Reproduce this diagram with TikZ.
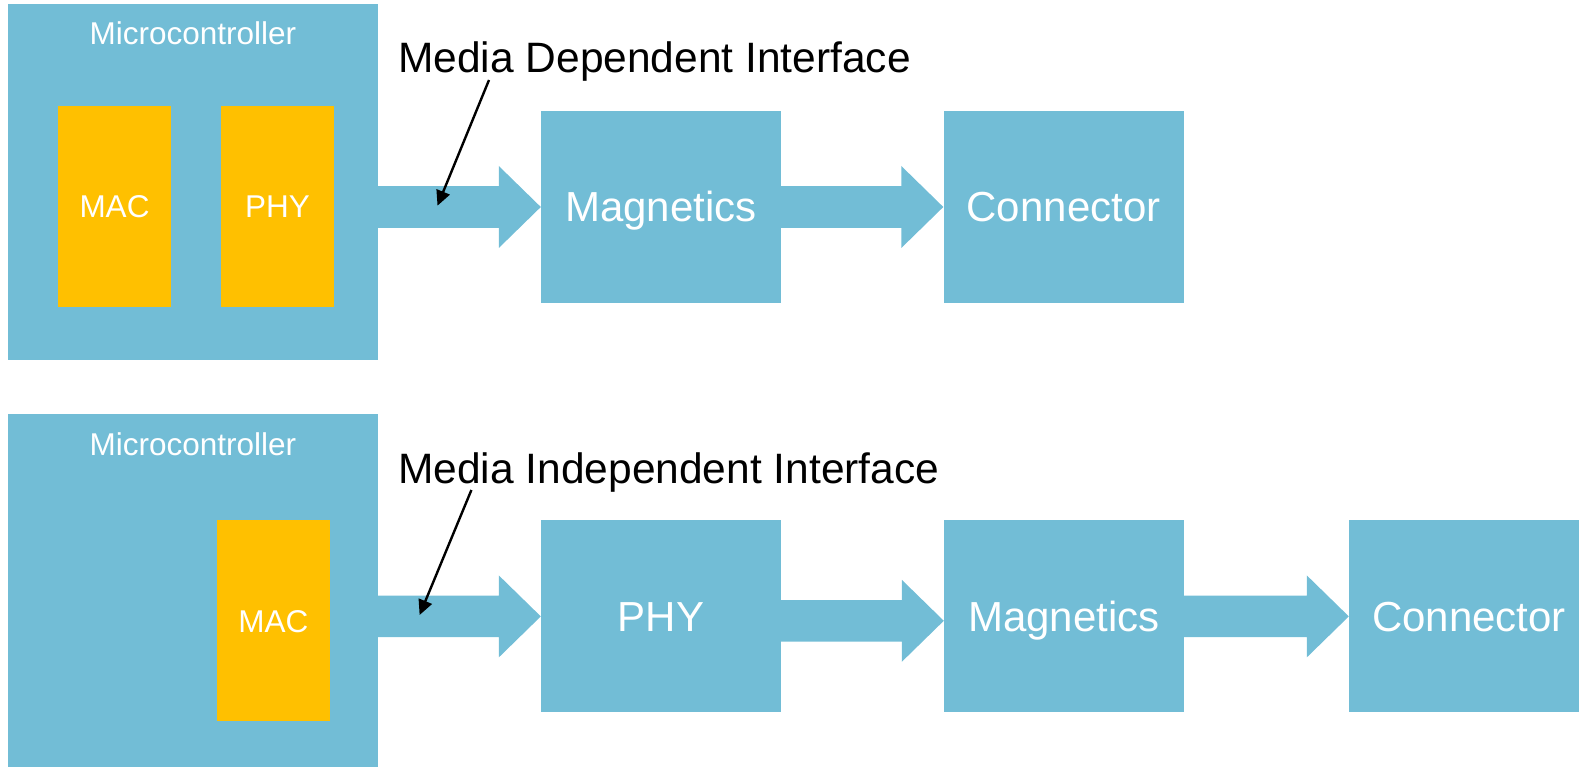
\documentclass[tikz,border=0pt]{standalone}
\usepackage{fontspec}
\setmainfont{Liberation Sans}
\usetikzlibrary{calc,arrows.meta}

\definecolor{boxblue}{RGB}{114,189,214}
\definecolor{chipgold}{RGB}{255,192,0}

\tikzset{
  x=1pt, y=-1pt,
  bigtext/.style={font=\fontsize{42}{50}\selectfont, text=white, text height=30pt, text depth=0pt},
  smalltext/.style={font=\fontsize{31.5}{38}\selectfont, text=white, text height=22.6pt, text depth=0pt},
  chipbox/.style={fill=boxblue, draw=none, inner sep=0pt, minimum width=370pt, minimum height=356pt},
  unitbox/.style={fill=boxblue, draw=none, inner sep=0pt, minimum width=240pt, minimum height=192pt, bigtext},
  corebox/.style={fill=chipgold, draw=none, inner sep=0pt, minimum width=113pt, minimum height=201pt, smalltext},
  chiptitle/.style={font=\fontsize{31.5}{38}\selectfont, text=white, inner sep=0pt, anchor=base},
  caption/.style={font=\fontsize{42.5}{50}\selectfont, text=black, inner sep=0pt, anchor=base west},
  pointer/.style={draw=black, line width=2.4pt, -{Triangle[length=15pt,width=14pt]}}
}

% wide flat arrow from the east side of #2 to the west side of #3,
% optionally shifted vertically by #1 (canvas, positive = up)
\newcommand{\bandarrow}[3][0pt]{%
  \fill[boxblue] let \p1=(#2.east), \p2=(#3.west) in
    (\x1,\y2+#1+20.8pt) -- (\x2-42pt,\y2+#1+20.8pt) -- (\x2-42pt,\y2+#1+41pt)
    -- (\x2,\y2+#1) -- (\x2-42pt,\y2+#1-41pt) -- (\x2-42pt,\y2+#1-20.8pt)
    -- (\x1,\y2+#1-20.8pt) -- cycle;}

\begin{document}
\begin{tikzpicture}
  \useasboundingbox (0,0) rectangle (1579,767);
  \clip (0,0) rectangle (1579,767);

  % ---------- upper chain: PHY inside the microcontroller ----------
  \node[chipbox] (mcuA) at (192.9,182) {};
  \node[chiptitle] (mcuAtitle) at (192.9,45) {Microcontroller};
  \node[corebox] (macA) at (114.5,206.3) {MAC};
  \node[corebox] (phyA) at (277.5,206.3) {PHY};
  \node[unitbox] (magA) at (661,207) {Magnetics};
  \node[unitbox] (conA) at (1063.5,207) {Connector};

  \bandarrow{mcuA}{magA}
  \bandarrow{magA}{conA}

  \node[caption] (mdi) at (398,73) {Media Dependent Interface};
  \coordinate (mditail) at (489,80);
  \coordinate (mditip) at (437.5,205.7);
  \draw[pointer] (mditail) -- (mditip);

  % ---------- lower chain: external PHY ----------
  \node[chipbox] (mcuB) at (192.9,592) {};
  \node[chiptitle] (mcuBtitle) at (192.9,455) {Microcontroller};
  \node[corebox] (macB) at (273.3,620.8) {MAC};
  \node[unitbox] (phyB) at (661,616.4) {PHY};
  \node[unitbox] (magB) at (1064,616.4) {Magnetics};
  \node[unitbox] (conB) at (1469,616.4) {Connector};

  \bandarrow{mcuB}{phyB}
  \bandarrow[-4.4pt]{phyB}{magB}
  \bandarrow{magB}{conB}

  \node[caption] (mii) at (398,483.3) {Media Independent Interface};
  \coordinate (miitail) at (471.4,490);
  \coordinate (miitip) at (419.6,615);
  \draw[pointer] (miitail) -- (miitip);
\end{tikzpicture}
\end{document}
